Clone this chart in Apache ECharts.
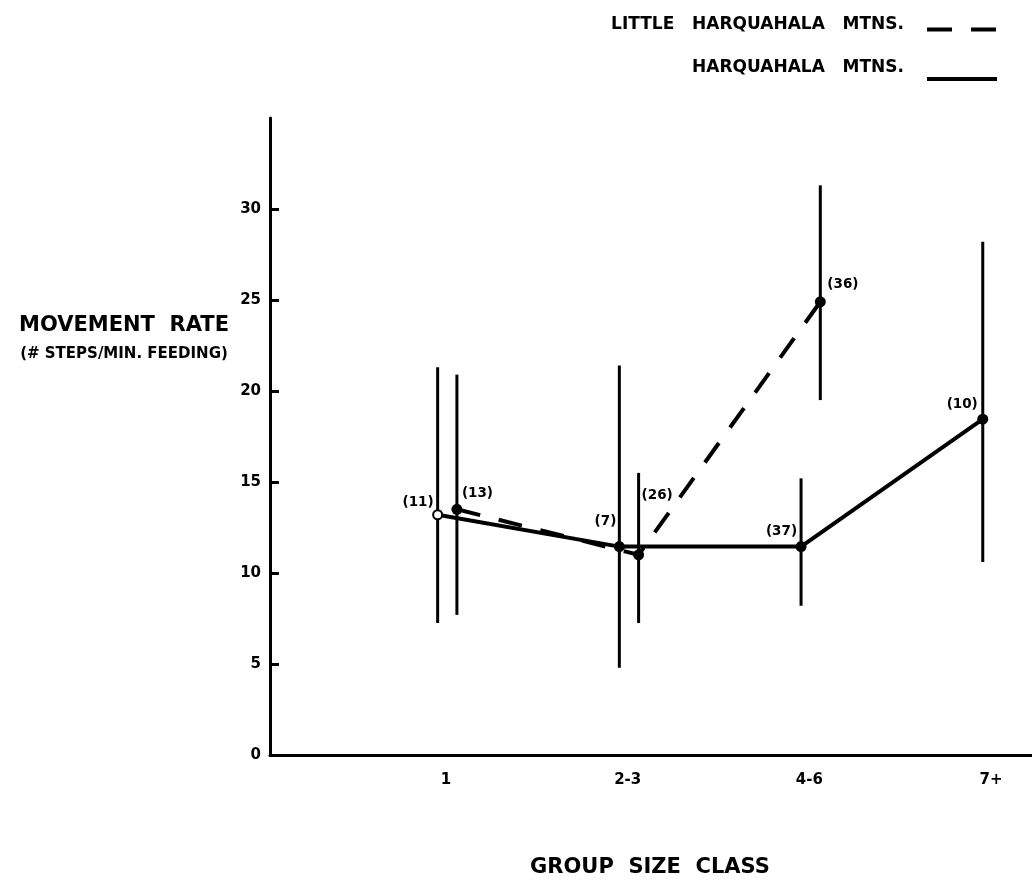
<!DOCTYPE html>
<html>
<head>
<meta charset="utf-8">
<title>Movement rate by group size class</title>
<script src="https://cdn.jsdelivr.net/npm/echarts@6/dist/echarts.min.js"></script>
<style>
  html, body { margin: 0; padding: 0; background: #fff; }
  #chart { width: 1032px; height: 894px; }
</style>
</head>
<body>
<div id="chart"></div>
<script>
// Group size classes along the horizontal axis
const groupClasses = ['1', '2-3', '4-6', '7+'];
const yTicks = [0, 5, 10, 15, 20, 25, 30];

// Harquahala Mtns. (solid line): mean, range low, range high, sample size
const harqMean = [13.2, 11.45, 11.45, 18.45];
const harqLow = [7.25, 4.8, 8.2, 10.6];
const harqHigh = [21.3, 21.4, 15.2, 28.2];
const harqN = [11, 7, 37, 10];

// Little Harquahala Mtns. (dashed line)
const littleMean = [13.5, 11.0, 24.9];
const littleLow = [7.7, 7.25, 19.5];
const littleHigh = [20.9, 15.5, 31.3];
const littleN = [13, 26, 36];

const HARQ_NAME = 'HARQUAHALA MTNS.';
const LITTLE_NAME = 'LITTLE HARQUAHALA MTNS.';

// small horizontal shift so the two series' bars sit side by side
const HARQ_SHIFT = -0.046;
const LITTLE_SHIFT = 0.06;

const FONT = '"DejaVu Sans", "Liberation Sans", sans-serif';
const INK = '#000';

// where each sample-size label sits relative to its point
const harqLabelPlace = [
  { align: 'right', offset: [-4, -12] },
  { align: 'right', offset: [-3, -25] },
  { align: 'right', offset: [-4, -15] },
  { align: 'right', offset: [-5, -15] }
];
const littleLabelPlace = [
  { align: 'left', offset: [5, -16] },
  { align: 'left', offset: [3, -59] },
  { align: 'left', offset: [7, -17] }
];

function pointData(means, ns, shift, places) {
  return means.map((m, i) => ({
    value: [i + shift, m],
    label: {
      show: true,
      position: 'inside',
      align: places[i].align,
      verticalAlign: 'middle',
      offset: places[i].offset,
      formatter: '(' + ns[i] + ')',
      color: INK,
      fontFamily: FONT,
      fontWeight: 'bold',
      fontSize: 13.5
    }
  }));
}

const harqPoints = pointData(harqMean, harqN, HARQ_SHIFT, harqLabelPlace);
// the single-animal class is marked with an open circle
harqPoints[0].symbolSize = 9;
harqPoints[0].itemStyle = { color: '#fff', borderColor: INK, borderWidth: 2 };

const littlePoints = pointData(littleMean, littleN, LITTLE_SHIFT, littleLabelPlace);

function rangeData(lows, highs, shift) {
  return lows.map((lo, i) => [i + shift, lo, highs[i]]);
}

function renderRange(params, api) {
  const x = api.value(0);
  const p1 = api.coord([x, api.value(1)]);
  const p2 = api.coord([x, api.value(2)]);
  return {
    type: 'line',
    shape: { x1: p1[0], y1: p1[1], x2: p2[0], y2: p2[1] },
    style: { stroke: INK, lineWidth: 3 }
  };
}

const legendText = {
  color: INK,
  fontFamily: FONT,
  fontWeight: 'bold',
  fontSize: 17,
  padding: [0, 18, 0, 0]
};
const spaced = name => name.replace(/ /g, '   ');

const chart = echarts.init(document.getElementById('chart'), null, { renderer: 'canvas' });

chart.setOption({
  animation: false,
  backgroundColor: '#fff',
  grid: { left: 270, right: 0, top: 118, bottom: 139, outerBoundsMode: 'none' },
  legend: [
    {
      data: [{ name: LITTLE_NAME, icon: 'path://M0,0h0.1v0.1h-0.1z M0,10h25v4h-25z M44,10h25v4h-25z M69.9,13.9h0.1v0.1h-0.1z' }],
      right: 35, top: 16, orient: 'vertical', align: 'right',
      itemWidth: 70, itemHeight: 14, padding: 0,
      selectedMode: false,
      itemStyle: { color: INK, borderWidth: 0 },
      formatter: spaced,
      textStyle: legendText
    },
    {
      data: [{ name: HARQ_NAME, icon: 'path://M0,0h0.1v0.1h-0.1z M0,22h70v4h-70z' }],
      right: 35, top: 55, orient: 'vertical', align: 'right',
      itemWidth: 70, itemHeight: 26, padding: 0,
      selectedMode: false,
      itemStyle: { color: INK, borderWidth: 0 },
      formatter: spaced,
      textStyle: legendText
    }
  ],
  xAxis: {
    type: 'value',
    min: -0.9686,
    max: 3.225,
    splitLine: { show: false },
    axisLine: { show: true, onZero: false, lineStyle: { color: INK, width: 3 } },
    axisTick: { show: false },
    axisLabel: {
      customValues: groupClasses.map((c, i) => i),
      formatter: v => groupClasses[Math.round(v)],
      margin: 18,
      color: INK,
      fontFamily: FONT,
      fontWeight: 'bold',
      fontSize: 15
    }
  },
  yAxis: {
    type: 'value',
    min: 0,
    max: 35,
    interval: 5,
    splitLine: { show: false },
    axisLine: { show: true, onZero: false, lineStyle: { color: INK, width: 3 } },
    axisTick: {
      show: true, inside: true, length: 9,
      customValues: yTicks,
      lineStyle: { color: INK, width: 3 }
    },
    axisLabel: {
      customValues: yTicks,
      margin: 9,
      color: INK,
      fontFamily: FONT,
      fontWeight: 'bold',
      fontSize: 15
    }
  },
  graphic: [
    {
      type: 'text', x: 124, y: 326,
      style: { text: 'MOVEMENT  RATE', align: 'center', verticalAlign: 'middle',
               fill: INK, fontFamily: FONT, fontWeight: 'bold', fontSize: 21 }
    },
    {
      type: 'text', x: 124, y: 354,
      style: { text: '(# STEPS/MIN. FEEDING)', align: 'center', verticalAlign: 'middle',
               fill: INK, fontFamily: FONT, fontWeight: 'bold', fontSize: 15 }
    },
    {
      type: 'text', x: 650, y: 868,
      style: { text: 'GROUP  SIZE  CLASS', align: 'center', verticalAlign: 'middle',
               fill: INK, fontFamily: FONT, fontWeight: 'bold', fontSize: 21 }
    }
  ],
  series: [
    {
      type: 'custom',
      name: 'little-range',
      z: 1,
      renderItem: renderRange,
      encode: { x: 0, y: [1, 2] },
      data: rangeData(littleLow, littleHigh, LITTLE_SHIFT),
      silent: true
    },
    {
      type: 'custom',
      name: 'harq-range',
      z: 1,
      renderItem: renderRange,
      encode: { x: 0, y: [1, 2] },
      data: rangeData(harqLow, harqHigh, HARQ_SHIFT),
      silent: true
    },
    {
      type: 'line',
      name: LITTLE_NAME,
      z: 2,
      data: littlePoints,
      symbol: 'circle',
      symbolSize: 11,
      itemStyle: { color: INK },
      lineStyle: { color: INK, width: 4, type: [24, 19] }
    },
    {
      type: 'line',
      name: HARQ_NAME,
      z: 3,
      data: harqPoints,
      symbol: 'circle',
      symbolSize: 11,
      itemStyle: { color: INK },
      lineStyle: { color: INK, width: 4 }
    }
  ]
});
</script>
</body>
</html>
